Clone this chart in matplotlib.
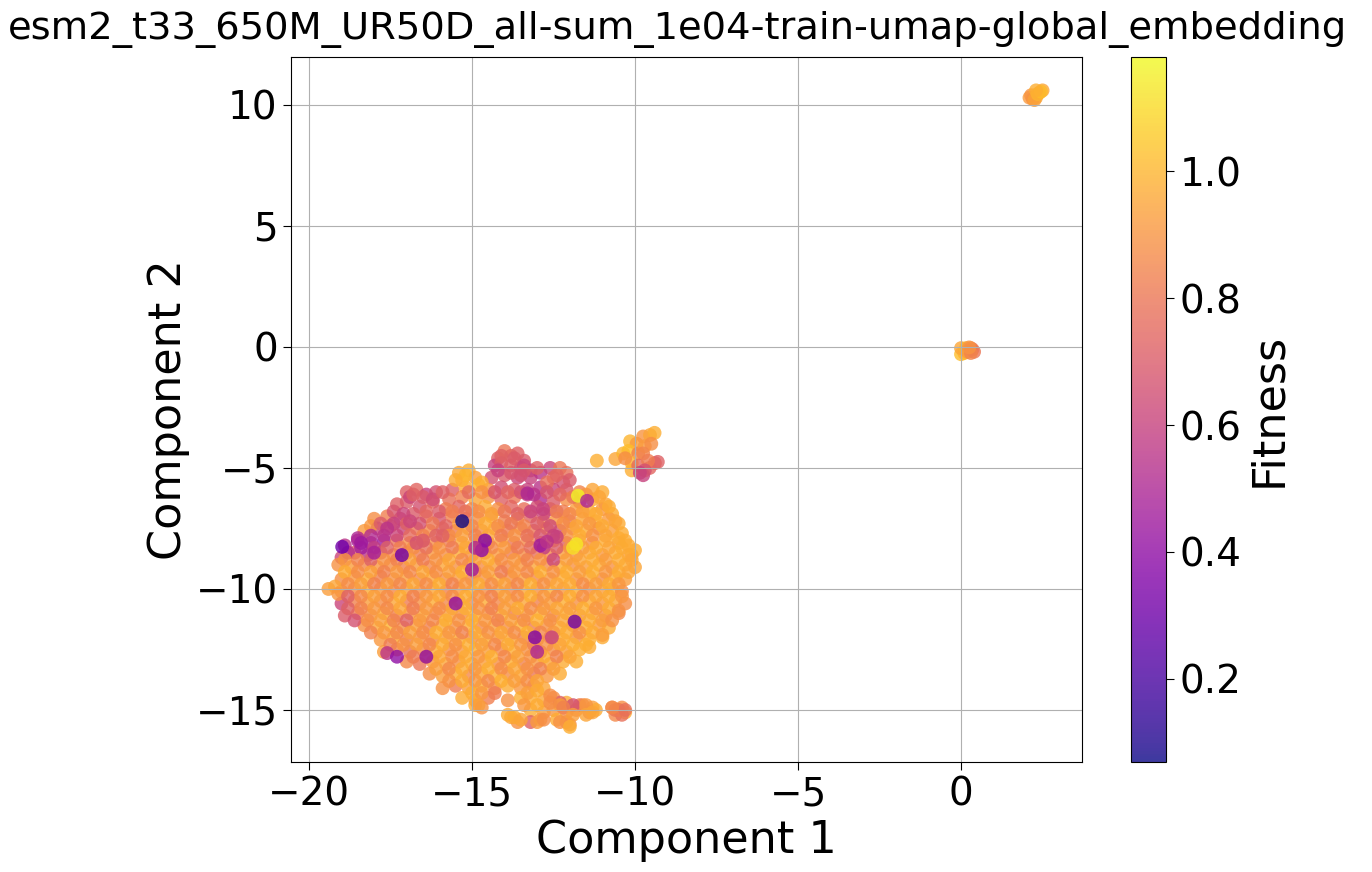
import matplotlib
matplotlib.use("Agg")
import matplotlib.pyplot as plt
import numpy as np

TITLE = "esm2_t33_650M_UR50D_all-sum_1e04-train-umap-global_embedding"

# main cluster (top to bottom)
main_x = [
    -14.2,-14.0,-13.8,-13.6,-13.4,-14.3,-14.1,-13.8,-13.5,-13.2,
    -15.4,-15.1,-15.3,-14.9,-14.4,-14.0,-13.6,-13.2,-12.9,-12.6,
    -12.3,-12.1,-12.5,-12.2,-15.6,-15.2,-14.8,-14.5,-14.1,-13.7,
    -13.3,-12.9,-12.5,-12.1,-11.7,-11.3,-11.0,-17.0,-16.7,-16.4,
    -16.1,-15.7,-15.3,-14.9,-14.5,-14.1,-13.7,-13.3,-12.9,-12.5,
    -12.1,-11.7,-11.3,-10.9,-17.3,-17.0,-16.6,-16.2,-15.8,-15.4,
    -15.0,-14.6,-14.2,-13.8,-13.4,-13.0,-12.6,-12.2,-11.8,-11.4,
    -11.0,-10.7,-18.0,-17.6,-17.2,-16.8,-16.4,-16.0,-15.6,-15.2,
    -14.8,-14.4,-14.0,-13.6,-13.2,-12.8,-12.4,-12.0,-11.6,-11.2,
    -10.8,-10.5,-18.3,-17.9,-17.5,-17.1,-16.7,-16.3,-15.9,-15.5,
    -15.1,-14.7,-14.3,-13.9,-13.5,-13.1,-12.7,-12.3,-11.9,-11.5,
    -11.1,-10.7,-10.4,-18.9,-18.5,-18.1,-17.7,-17.3,-16.9,-16.5,
    -16.1,-15.7,-15.3,-14.9,-14.5,-14.1,-13.7,-13.3,-12.9,-12.5,
    -12.1,-11.7,-11.3,-10.9,-10.5,-10.2,-19.0,-18.6,-18.2,-17.8,
    -17.4,-17.0,-16.6,-16.2,-15.8,-15.4,-15.0,-14.6,-14.2,-13.8,
    -13.4,-13.0,-12.6,-12.2,-11.8,-11.4,-11.0,-10.6,-10.2,-10.0,
    -19.1,-18.7,-18.3,-17.9,-17.5,-17.1,-16.7,-16.3,-15.9,-15.5,
    -15.1,-14.7,-14.3,-13.9,-13.5,-13.1,-12.7,-12.3,-11.9,-11.5,
    -11.1,-10.7,-10.3,-10.0,-19.0,-18.6,-18.2,-17.8,-17.4,-17.0,
    -16.6,-16.2,-15.8,-15.4,-15.0,-14.6,-14.2,-13.8,-13.4,-13.0,
    -12.6,-12.2,-11.8,-11.4,-11.0,-10.6,-10.3,-19.4,-19.0,-18.6,
    -18.2,-17.8,-17.4,-17.0,-16.6,-16.2,-15.8,-15.4,-15.0,-14.6,
    -14.2,-13.8,-13.4,-13.0,-12.6,-12.2,-11.8,-11.4,-11.0,-10.7,
    -10.4,-19.0,-18.6,-18.2,-17.8,-17.4,-17.0,-16.6,-16.2,-15.8,
    -15.4,-15.0,-14.6,-14.2,-13.8,-13.4,-13.0,-12.6,-12.2,-11.8,
    -11.4,-11.0,-10.6,-10.3,-18.9,-18.5,-18.1,-17.7,-17.3,-16.9,
    -16.5,-16.1,-15.7,-15.3,-14.9,-14.5,-14.1,-13.7,-13.3,-12.9,
    -12.5,-12.1,-11.7,-11.3,-10.9,-10.5,-18.3,-17.9,-17.5,-17.1,
    -16.7,-16.3,-15.9,-15.5,-15.1,-14.7,-14.3,-13.9,-13.5,-13.1,
    -12.7,-12.3,-11.9,-11.5,-11.1,-10.8,-17.8,-17.4,-17.0,-16.6,
    -16.2,-15.8,-15.4,-15.0,-14.6,-14.2,-13.8,-13.4,-13.0,-12.6,
    -12.2,-11.8,-11.4,-11.0,-17.7,-17.3,-16.9,-16.5,-16.1,-15.7,
    -15.3,-14.9,-14.5,-14.1,-13.7,-13.3,-12.9,-12.5,-12.1,-11.7,
    -11.4,-17.0,-16.6,-16.2,-15.8,-15.4,-15.0,-14.6,-14.2,-13.8,
    -13.4,-13.0,-12.6,-12.2,-11.8,-16.3,-15.9,-15.5,-15.1,-14.7,
    -14.3,-13.9,-13.5,-13.1,-12.7,-12.3,-15.9,-15.5,-15.1,-14.7,
    -14.3,-13.9,-13.5,-13.1,-12.8,-15.3,-14.9,-14.5,-13.9,-13.5,
    -13.2,-12.8,-12.5,-12.1,-11.7,-11.3,-14.9,-14.7,-13.2,-12.8,
    -12.5,-12.1,-11.8,-11.4,-11.2,-10.7,-10.5,-10.3,-13.8,-13.6,
    -13.2,-12.9,-12.4,-12.1,-12.0,-13.0,-10.6,-10.4,-12.3,-11.6,
]
main_y = [
    -4.6,-4.3,-4.5,-4.4,-4.7,-4.9,-4.8,-4.9,-5.0,-5.1,
    -5.2,-5.1,-5.5,-5.4,-5.4,-5.3,-5.4,-5.4,-5.2,-5.0,
    -5.0,-5.2,-5.4,-5.6,-5.9,-5.8,-5.7,-5.9,-5.8,-5.9,
    -5.9,-5.8,-5.9,-5.9,-6.0,-5.9,-6.0,-6.0,-5.9,-6.1,
    -6.0,-6.3,-6.2,-6.3,-6.2,-6.3,-6.2,-6.1,-6.3,-6.4,
    -6.3,-6.4,-6.3,-6.5,-6.5,-6.4,-6.6,-6.4,-6.7,-6.6,
    -6.7,-6.6,-6.7,-6.6,-6.7,-6.6,-6.7,-6.8,-6.7,-6.8,
    -6.7,-6.9,-7.1,-7.0,-7.1,-6.9,-7.0,-7.1,-7.0,-7.1,
    -7.1,-7.0,-7.2,-7.1,-7.0,-7.2,-7.1,-7.2,-7.1,-7.2,
    -7.1,-7.3,-7.6,-7.5,-7.4,-7.5,-7.5,-7.6,-7.5,-7.6,
    -7.5,-7.6,-7.5,-7.6,-7.5,-7.6,-7.5,-7.6,-7.5,-7.6,
    -7.5,-7.6,-7.7,-8.2,-8.0,-8.1,-8.0,-8.0,-8.1,-8.0,
    -8.1,-8.0,-8.1,-8.0,-8.1,-8.0,-8.1,-8.0,-8.1,-8.0,
    -8.1,-8.0,-8.1,-8.0,-8.1,-8.2,-8.7,-8.5,-8.6,-8.5,
    -8.6,-8.5,-8.6,-8.5,-8.6,-8.5,-8.6,-8.5,-8.6,-8.5,
    -8.6,-8.5,-8.6,-8.5,-8.6,-8.5,-8.6,-8.5,-8.6,-8.4,
    -9.0,-9.1,-9.0,-9.1,-9.0,-9.1,-9.0,-9.1,-9.0,-9.1,
    -9.0,-9.1,-9.0,-9.1,-9.0,-9.1,-9.0,-9.1,-9.0,-9.1,
    -9.0,-9.1,-9.0,-9.1,-9.6,-9.5,-9.6,-9.5,-9.6,-9.5,
    -9.6,-9.5,-9.6,-9.5,-9.6,-9.5,-9.6,-9.5,-9.6,-9.5,
    -9.6,-9.5,-9.6,-9.5,-9.6,-9.5,-9.6,-10.0,-10.1,-10.0,
    -10.1,-10.0,-10.1,-10.0,-10.1,-10.0,-10.1,-10.0,-10.1,-10.0,
    -10.1,-10.0,-10.1,-10.0,-10.1,-10.0,-10.1,-10.0,-10.1,-10.0,
    -10.1,-10.6,-10.5,-10.6,-10.5,-10.6,-10.5,-10.6,-10.5,-10.6,
    -10.5,-10.6,-10.5,-10.6,-10.5,-10.6,-10.5,-10.6,-10.5,-10.6,
    -10.5,-10.6,-10.5,-10.6,-11.1,-11.0,-11.1,-11.0,-11.1,-11.0,
    -11.1,-11.0,-11.1,-11.0,-11.1,-11.0,-11.1,-11.0,-11.1,-11.0,
    -11.1,-11.0,-11.1,-11.0,-11.1,-11.0,-11.5,-11.6,-11.5,-11.6,
    -11.5,-11.6,-11.5,-11.6,-11.5,-11.6,-11.5,-11.6,-11.5,-11.6,
    -11.5,-11.6,-11.5,-11.6,-11.5,-11.6,-12.1,-12.0,-12.1,-12.0,
    -12.1,-12.0,-12.1,-12.0,-12.1,-12.0,-12.1,-12.0,-12.1,-12.0,
    -12.1,-12.0,-12.1,-12.0,-12.6,-12.5,-12.6,-12.5,-12.6,-12.5,
    -12.6,-12.5,-12.6,-12.5,-12.6,-12.5,-12.6,-12.5,-12.6,-12.5,
    -12.4,-13.0,-13.1,-13.0,-13.1,-13.0,-13.1,-13.0,-13.1,-13.0,
    -13.1,-13.0,-13.1,-13.0,-13.0,-13.5,-13.6,-13.5,-13.6,-13.5,
    -13.6,-13.5,-13.6,-13.5,-13.6,-13.5,-14.1,-14.0,-14.1,-14.0,
    -14.1,-14.0,-14.1,-14.0,-14.1,-14.5,-14.6,-14.5,-14.6,-14.5,
    -14.5,-14.6,-14.5,-14.7,-14.8,-14.9,-14.8,-14.9,-15.0,-15.1,
    -15.0,-15.1,-15.0,-15.1,-15.0,-14.9,-15.0,-15.1,-15.3,-15.5,
    -15.5,-15.4,-15.4,-15.5,-15.6,-15.5,-15.2,-15.2,-14.7,-14.8,
]
main_fit = [
    .72,.80,.74,.72,.70,.60,.70,.72,.66,.62,
    .96,.98,1.0,.93,.66,.70,.62,.60,.55,.62,
    .80,.78,.72,.66,.72,.98,1.0,.90,.65,.70,
    .60,.55,.62,.70,.85,.95,.97,.72,.74,.60,
    .66,.78,.84,.95,.89,.72,.80,.60,.52,.70,
    .88,.74,.97,.95,.72,.70,.66,.76,.82,.74,
    .86,.97,.89,.74,.78,.66,.72,.82,.93,.97,
    .91,.97,.88,.83,.62,.70,.78,.68,.84,.80,
    .89,.97,.84,.88,.74,.84,.91,.80,.95,.97,
    .92,.97,.92,.60,.72,.62,.80,.86,.70,.82,
    .93,.88,.95,.82,.89,.80,.86,.66,.89,.97,
    .88,.93,.97,.55,.48,.50,.45,.80,.89,.78,
    .88,.82,.95,.91,.84,.93,.80,.86,.76,.88,
    .72,.93,.88,.97,.93,.97,.62,.70,.55,.72,
    .86,.89,.82,.91,.88,.97,.89,.84,.92,.82,
    .88,.78,.86,.93,.88,.95,.91,.97,.93,.97,
    .89,.93,.86,.91,.88,.84,.92,.86,.95,.89,
    .97,.88,.93,.86,.91,.95,.88,.97,.89,.93,
    .97,.89,.97,.95,.88,.91,.97,.84,.89,.93,
    .86,.95,.88,.92,.84,.89,.97,.88,.93,.86,
    .91,.97,.89,.95,.88,.97,.93,.93,.89,.88,
    .97,.91,.86,.93,.88,.95,.84,.91,.97,.88,
    .93,.86,.95,.89,.98,.91,.97,.88,.93,.97,
    .88,.62,.84,.93,.88,.95,.82,.89,.97,.86,
    .93,.88,.97,.86,.91,.95,.84,.93,.98,.89,
    .97,.91,.95,.88,.70,.82,.89,.97,.84,.91,
    .95,.86,.93,.88,.98,.89,.97,.82,.91,.98,
    .86,.97,.89,.95,.88,.86,.89,.95,1.0,.88,
    .93,.84,.95,.89,.97,.86,.93,.88,.98,.82,
    .89,.97,.86,.98,.92,.97,.91,.97,.82,.89,
    .86,.93,.97,.88,.98,.91,.95,.84,.93,.82,
    .97,.89,.98,.97,.93,.88,.78,.86,.97,.88,
    .91,.98,.93,.86,.97,.89,.76,.88,.93,.98,
    .97,.86,.80,.91,.95,.89,.97,.93,.88,.98,
    .84,.91,.95,.97,.98,.88,.93,.97,.86,.95,
    .98,.88,.95,.80,.91,.97,.89,.82,.93,.98,
    .88,.97,.91,.86,.95,.97,.93,.83,.89,.98,
    .97,.95,.88,.97,.82,.93,.97,.89,.98,.93,
    .91,.88,.86,.80,.97,.89,.92,.97,.95,.89,
    .72,.93,.97,.91,.88,.92,.86,.78,.72,.86,
]

# second pass over the same cluster, filling the space between the first rows
fill_x = [
    -14.1,-13.7,-13.4,-15.2,-14.7,-14.2,-13.8,-13.4,-13.0,-12.7,
    -12.4,-12.0,-16.9,-16.5,-16.2,-15.9,-15.5,-15.1,-14.7,-14.3,
    -13.9,-13.5,-13.1,-12.7,-12.3,-11.9,-11.5,-11.1,-17.4,-17.1,
    -16.8,-16.4,-16.0,-15.6,-15.2,-14.8,-14.4,-14.0,-13.6,-13.2,
    -12.8,-12.4,-12.0,-11.6,-11.2,-10.8,-18.1,-17.8,-17.4,-17.0,
    -16.6,-16.2,-15.8,-15.4,-15.0,-14.6,-14.2,-13.8,-13.4,-13.0,
    -12.6,-12.2,-11.8,-11.4,-11.0,-10.6,-18.5,-18.1,-17.7,-17.3,
    -16.9,-16.5,-16.1,-15.7,-15.3,-14.9,-14.5,-14.1,-13.7,-13.3,
    -12.9,-12.5,-12.1,-11.7,-11.3,-10.9,-10.5,-10.3,-18.8,-18.4,
    -18.0,-17.6,-17.2,-16.8,-16.4,-16.0,-15.6,-15.2,-14.8,-14.4,
    -14.0,-13.6,-13.2,-12.8,-12.4,-12.0,-11.6,-11.2,-10.8,-10.4,
    -10.1,-18.9,-18.5,-18.1,-17.7,-17.3,-16.9,-16.5,-16.1,-15.7,
    -15.3,-14.9,-14.5,-14.1,-13.7,-13.3,-12.9,-12.5,-12.1,-11.7,
    -11.3,-10.9,-10.5,-10.1,-18.9,-18.5,-18.1,-17.7,-17.3,-16.9,
    -16.5,-16.1,-15.7,-15.3,-14.9,-14.5,-14.1,-13.7,-13.3,-12.9,
    -12.5,-12.1,-11.7,-11.3,-10.9,-10.5,-10.2,-19.2,-18.8,-18.4,
    -18.0,-17.6,-17.2,-16.8,-16.4,-16.0,-15.6,-15.2,-14.8,-14.4,
    -14.0,-13.6,-13.2,-12.8,-12.4,-12.0,-11.6,-11.2,-10.8,-10.5,
    -19.1,-18.8,-18.4,-18.0,-17.6,-17.2,-16.8,-16.4,-16.0,-15.6,
    -15.2,-14.8,-14.4,-14.0,-13.6,-13.2,-12.8,-12.4,-12.0,-11.6,
    -11.2,-10.8,-10.4,-18.8,-18.4,-18.0,-17.6,-17.2,-16.8,-16.4,
    -16.0,-15.6,-15.2,-14.8,-14.4,-14.0,-13.6,-13.2,-12.8,-12.4,
    -12.0,-11.6,-11.2,-10.8,-10.5,-18.6,-18.2,-17.8,-17.4,-17.0,
    -16.6,-16.2,-15.8,-15.4,-15.0,-14.6,-14.2,-13.8,-13.4,-13.0,
    -12.6,-12.2,-11.8,-11.4,-11.0,-10.7,-18.1,-17.7,-17.3,-16.9,
    -16.5,-16.1,-15.7,-15.3,-14.9,-14.5,-14.1,-13.7,-13.3,-12.9,
    -12.5,-12.1,-11.7,-11.3,-11.0,-17.5,-17.1,-16.7,-16.3,-15.9,
    -15.5,-15.1,-14.7,-14.3,-13.9,-13.5,-13.1,-12.7,-12.3,-11.9,
    -11.5,-16.8,-16.4,-16.0,-15.6,-15.2,-14.8,-14.4,-14.0,-13.6,
    -13.2,-12.8,-12.4,-12.0,-16.1,-15.7,-15.3,-14.9,-14.5,-14.1,
    -13.7,-13.3,-12.9,-12.5,-15.7,-15.3,-14.9,-14.5,-14.1,-13.7,
    -13.3,-13.0,-15.0,-14.7,-14.3,-13.3,-13.0,-12.6,-12.3,-11.9,
    -11.5,-11.3,-10.6,-10.4,-14.8,-13.4,-13.0,-12.6,-12.2,-11.9,
    -11.5,-13.7,-12.3,-12.0,-13.9,-13.5,-10.5,-10.3,-10.7,-12.8,
]
fill_y = [
    -4.5,-4.6,-4.9,-5.3,-5.6,-5.1,-5.2,-5.1,-5.0,-5.6,
    -5.3,-5.5,-6.2,-6.2,-6.3,-6.0,-5.5,-6.0,-6.0,-6.0,
    -6.0,-6.0,-6.1,-6.0,-6.1,-6.2,-6.1,-6.2,-6.8,-6.9,
    -6.1,-6.8,-6.8,-6.8,-6.8,-6.8,-6.9,-6.8,-6.9,-6.8,
    -6.9,-6.8,-6.9,-6.8,-6.9,-6.6,-7.4,-7.3,-7.3,-7.3,
    -7.3,-7.3,-7.4,-7.3,-7.4,-7.3,-7.4,-7.3,-7.4,-7.3,
    -7.4,-7.3,-7.4,-7.3,-7.4,-7.2,-7.9,-7.8,-7.8,-7.8,
    -7.8,-7.8,-7.8,-7.8,-7.8,-7.8,-7.8,-7.8,-7.8,-7.8,
    -7.8,-7.8,-7.8,-7.8,-7.8,-7.8,-7.9,-8.0,-8.5,-8.3,
    -8.3,-8.3,-8.3,-8.3,-8.3,-8.3,-8.3,-8.3,-8.3,-8.3,
    -8.3,-8.3,-8.3,-8.3,-8.3,-8.3,-8.3,-8.3,-8.3,-8.3,
    -8.6,-8.8,-8.8,-8.8,-8.8,-8.8,-8.8,-8.8,-8.8,-8.8,
    -8.8,-8.8,-8.8,-8.8,-8.8,-8.8,-8.8,-8.8,-8.8,-8.8,
    -8.8,-8.8,-8.8,-8.8,-9.3,-9.3,-9.3,-9.3,-9.3,-9.3,
    -9.3,-9.3,-9.3,-9.3,-9.3,-9.3,-9.3,-9.3,-9.3,-9.3,
    -9.3,-9.3,-9.3,-9.3,-9.3,-9.3,-9.3,-9.9,-9.8,-9.8,
    -9.8,-9.8,-9.8,-9.8,-9.8,-9.8,-9.8,-9.8,-9.8,-9.8,
    -9.8,-9.8,-9.8,-9.8,-9.8,-9.8,-9.8,-9.8,-9.8,-9.8,
    -10.2,-10.3,-10.3,-10.3,-10.3,-10.3,-10.3,-10.3,-10.3,-10.3,
    -10.3,-10.3,-10.3,-10.3,-10.3,-10.3,-10.3,-10.3,-10.3,-10.3,
    -10.3,-10.3,-10.3,-10.8,-10.8,-10.8,-10.8,-10.8,-10.8,-10.8,
    -10.8,-10.8,-10.8,-10.8,-10.8,-10.8,-10.8,-10.8,-10.8,-10.8,
    -10.8,-10.8,-10.8,-10.8,-10.9,-11.3,-11.3,-11.3,-11.3,-11.3,
    -11.3,-11.3,-11.3,-11.3,-11.3,-11.3,-11.3,-11.3,-11.3,-11.3,
    -11.3,-11.3,-11.3,-11.3,-11.3,-11.3,-11.8,-11.8,-11.8,-11.8,
    -11.8,-11.8,-11.8,-11.8,-11.8,-11.8,-11.8,-11.8,-11.8,-11.8,
    -11.8,-11.8,-11.8,-11.8,-11.9,-12.3,-12.3,-12.3,-12.3,-12.3,
    -12.3,-12.3,-12.3,-12.3,-12.3,-12.3,-12.3,-12.3,-12.3,-12.3,
    -12.3,-12.8,-12.8,-12.8,-12.8,-12.8,-12.8,-12.8,-12.8,-12.8,
    -12.8,-12.8,-12.8,-12.8,-13.3,-13.3,-13.3,-13.3,-13.3,-13.3,
    -13.3,-13.3,-13.3,-13.3,-13.8,-13.8,-13.8,-13.8,-13.8,-13.8,
    -13.8,-13.8,-14.3,-14.3,-14.3,-14.3,-14.2,-14.4,-14.8,-14.8,
    -14.8,-15.1,-15.0,-14.9,-14.8,-14.8,-14.8,-14.7,-14.9,-15.2,
    -15.2,-15.3,-15.5,-15.7,-15.2,-15.4,-15.0,-15.0,-14.9,-15.4,
]
fill_fit = [
    .72,.70,.62,1.0,.98,.60,.68,.70,.72,.78,
    .74,.70,.62,.70,.64,.72,.97,.76,.89,.68,
    .74,.66,.55,.68,.74,.80,.91,.95,.68,.62,
    .72,.74,.70,.82,.78,.88,.93,.80,.72,.60,
    .62,.80,.86,.93,.97,.97,.91,.70,.60,.72,
    .66,.80,.74,.91,.86,.97,.88,.80,.84,.70,
    .64,.88,.95,.91,.97,.95,.50,.52,.55,.62,
    .76,.84,.72,.88,.93,.84,.95,.82,.89,.78,
    .68,.60,.89,.97,.89,.95,.97,.97,.52,.46,
    .58,.72,.82,.88,.78,.89,.82,.95,.88,.86,
    .91,.82,.76,.58,.70,.89,.93,.97,.95,.97,
    .97,.91,.84,.72,.89,.84,.93,.82,.89,.95,
    .86,.93,.97,.88,.91,.84,.89,.62,.93,.95,
    .97,.93,.97,.95,.97,.88,.93,.84,.91,.86,
    .95,.88,.93,.98,.88,.93,.82,.91,.86,.98,
    .89,.97,.93,.98,.91,.97,.95,.95,.88,.93,
    .84,.91,.86,.95,.88,.97,.84,.91,.97,.88,
    .93,.86,.98,.89,.95,.97,.88,.93,.97,.91,
    .91,.72,.86,.93,.88,.97,.84,.91,.95,.88,
    .97,.89,.84,.93,.88,.98,.91,.86,.97,.89,
    .95,.97,.91,.72,.84,.91,.86,.95,.82,.91,
    .88,.95,.98,.89,.84,.93,.97,.88,.91,.95,
    .93,.98,.91,.97,.89,.66,.88,.93,.84,.72,
    .91,.86,.98,.89,.97,.91,.84,.93,.88,.98,
    .89,.95,.97,.97,.93,.89,.84,.91,.86,.93,
    .88,.98,.91,.84,.97,.89,.95,.88,.98,.86,
    .91,.97,.89,.97,.93,.82,.89,.93,.86,.97,
    .89,.98,.93,.86,.97,.91,.84,.89,.95,.98,
    .98,.82,.91,.95,.88,.97,.91,.98,.86,.93,
    .89,.97,.84,.95,.93,.86,.97,.91,.98,.88,
    .95,.89,.84,.93,.89,.97,.91,.86,.98,.93,
    .88,.95,.97,.91,.82,.93,.97,.88,.93,.66,
    .91,.95,.80,.88,.93,.91,.97,.88,.84,.93,
    .95,.97,.89,.98,.97,.95,.82,.78,.86,.88,
]

# dark or odd points that sit on top of the cluster
spot_x = [-15.3,-17.15,-16.4,-17.6,-17.3,-18.98,-18.4,-18.0,-11.85,-11.75,-11.47,-13.3,-12.82,-14.6,-14.7,-13.0,-13.07,-12.9,-12.4,-12.7,-14.9,-15.0,-17.6,-16.9,-12.55,-11.8,-15.5,-16.7,-16.5,-15.9,-11.9,-13.5]
spot_y = [-7.2,-8.6,-12.8,-12.65,-12.8,-8.26,-8.1,-8.5,-11.35,-6.15,-6.36,-6.05,-6.7,-8.0,-8.4,-12.6,-12.0,-8.2,-7.85,-8.05,-8.3,-9.2,-7.5,-7.2,-12.0,-8.15,-10.6,-8.1,-8.0,-7.8,-8.3,-5.3]
spot_fit = [.07,.30,.40,.55,.40,.30,.45,.48,.30,1.17,.50,.50,.60,.35,.40,.50,.35,.45,.60,.55,.50,.45,.55,.62,.60,1.14,.40,.66,.70,.72,1.12,.66]

# cluster above and right of the main one
upper_x = [-11.17,-10.6,-10.36,-10.15,-9.95,-9.75,-9.54,-9.4,-10.2,-9.9,-9.7,-9.5,-10.1,-9.75,-9.39,-9.3,-9.55,-9.75,-10.1,-9.9,-9.6,-9.7,-10.3,-9.85]
upper_y = [-4.7,-4.63,-4.4,-3.9,-4.0,-3.7,-3.64,-3.55,-4.3,-4.4,-4.1,-4.0,-4.8,-4.4,-4.8,-4.75,-5.0,-5.3,-5.1,-4.9,-4.7,-5.1,-4.6,-5.2]
upper_fit = [.98,.95,1.0,1.0,.92,.90,.95,.98,1.02,.84,.92,.88,1.0,.85,.76,.72,.74,.60,.98,.76,.82,.66,.88,.60]

# two small clusters on the right
mid_x = [0.0,0.1,0.0,0.15,0.2,0.3,0.35,0.4,0.3,0.25]
mid_y = [-0.3,-0.25,-0.05,-0.05,-0.2,-0.05,-0.1,-0.2,-0.25,-0.02]
mid_fit = [1.02,1.0,.95,1.0,.92,.85,.82,.80,.85,.90]
top_x = [2.1,2.2,2.3,2.15,2.25,2.35,2.4,2.5,2.45,2.3]
top_y = [10.3,10.25,10.3,10.4,10.2,10.45,10.5,10.6,10.55,10.6]
top_fit = [.92,.88,.95,.90,.94,1.0,.98,.95,1.02,.98]

colorbar_ticks = [0.2, 0.4, 0.6, 0.8, 1.0]

comp1 = np.array(main_x + fill_x + spot_x + upper_x + mid_x + top_x)
comp2 = np.array(main_y + fill_y + spot_y + upper_y + mid_y + top_y)
fitness = np.array(main_fit + fill_fit + spot_fit + upper_fit + mid_fit + top_fit)

W, H = 1372, 872
fig = plt.figure(figsize=(W / 100, H / 100), dpi=100)
ax = fig.add_axes([291 / W, 1 - 762 / H, (1082 - 291) / W, (762 - 57) / H])
cax = fig.add_axes([1131 / W, 1 - 762 / H, (1166 - 1131) / W, (762 - 57) / H])

sc = ax.scatter(comp1, comp2, c=fitness, s=100, alpha=0.8, cmap="plasma",
                vmin=0.069, vmax=1.18, linewidths=0)
ax.set_xlim(-20.55, 3.71)
ax.set_ylim(-17.15, 11.98)
ax.grid(True)
ax.tick_params(labelsize=28, length=6)
ax.set_xlabel("Component 1", fontsize=32)
ax.set_ylabel("Component 2", fontsize=32)
ax.set_title(TITLE, fontsize=27.7, pad=13, x=0.4886)

cb = fig.colorbar(sc, cax=cax)
cb.set_ticks(colorbar_ticks)
cb.ax.tick_params(labelsize=28, length=6)
cb.set_label("Fitness", fontsize=32)

fig.savefig("out.png", dpi=100)
